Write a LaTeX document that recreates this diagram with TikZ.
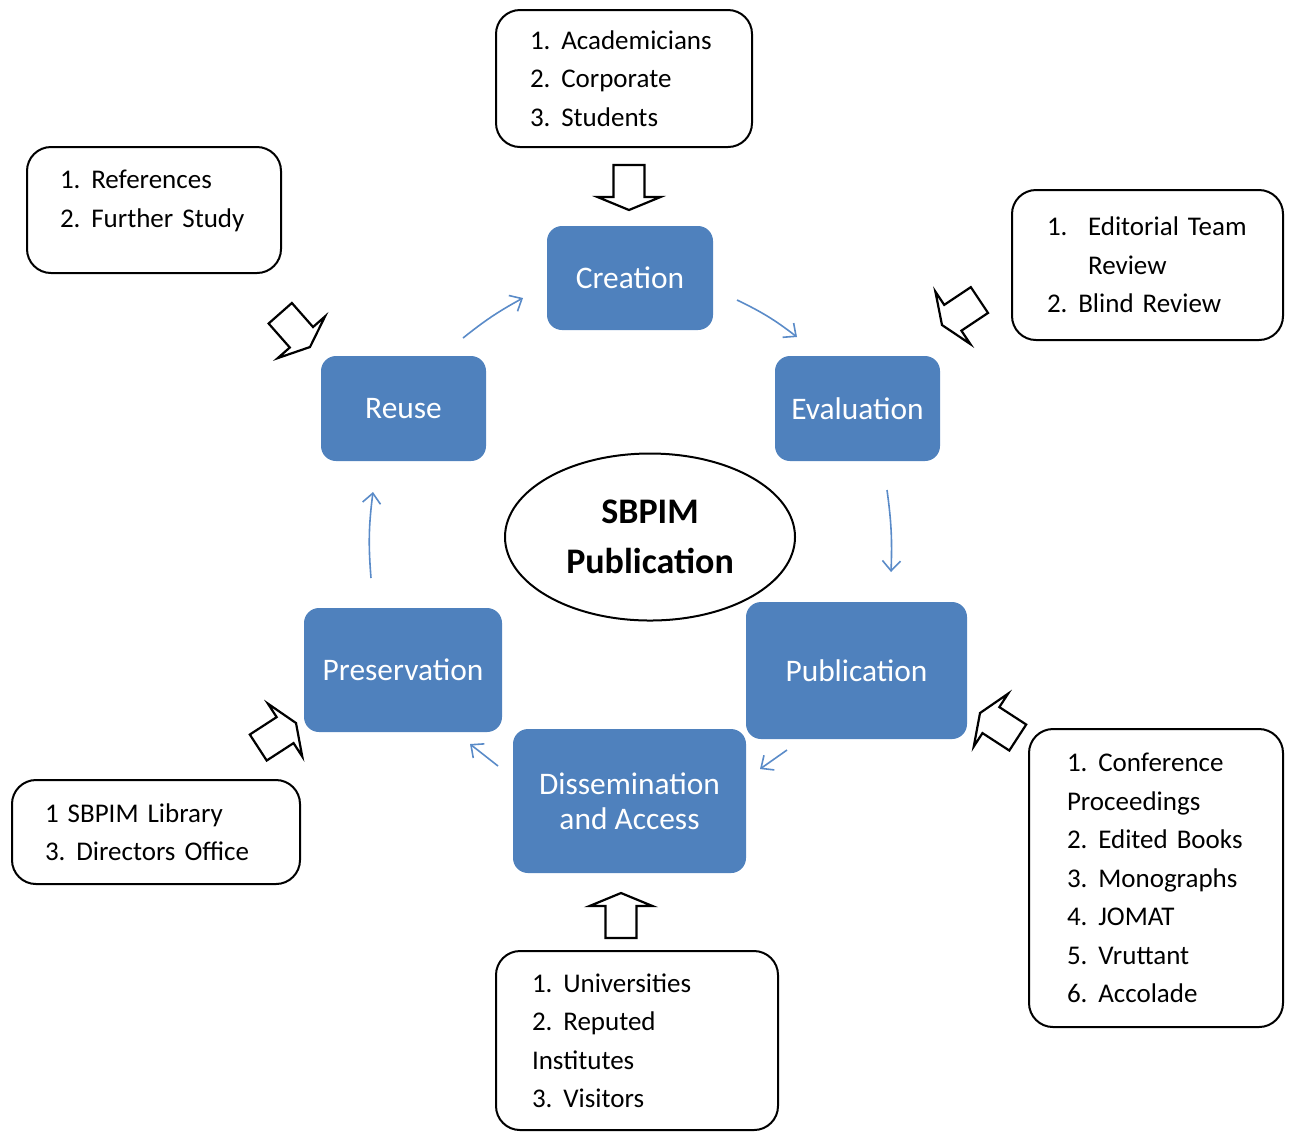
\documentclass[tikz,border=0pt]{standalone}
\usepackage{fontspec}
\setmainfont{Carlito}
\usetikzlibrary{arrows.meta,shapes.geometric}
\definecolor{boxblue}{HTML}{4F81BD}
\definecolor{arrblue}{HTML}{5A8BC8}
\newcommand\lnum[1]{#1.\hspace{0.4em}}
\begin{document}
\begin{tikzpicture}[x=0.5pt,y=-0.5pt,
  stage/.style={fill=boxblue, rounded corners=7.5pt, text=white,
    font=\fontsize{15.7}{17.5}\selectfont, align=center, inner sep=0pt},
  listbox/.style={draw=black, line width=1pt, rounded corners=12pt, fill=white,
    align=left, inner ysep=0pt, font=\fontsize{13.5}{19.25}\selectfont},
  cyc/.style={draw=arrblue, line width=0.8pt, -{Straight Barb[length=5pt,width=9pt]}},
  barrow/.style={draw=black, line width=1.1pt, fill=white, line join=miter},
  blockarrow/.pic={\path[barrow] (-45,-15.5) -- (-13,-15.5) -- (-13,-31.5) -- (0,0)
     -- (-13,31.5) -- (-13,15.5) -- (-45,15.5) -- cycle;}
]
\useasboundingbox (0,0) rectangle (1293,1132);

% central ellipse
\node[ellipse, draw=black, line width=1pt, minimum width=145pt, minimum height=83.5pt,
  inner sep=0pt, align=center, font=\bfseries\fontsize{18}{25}\selectfont]
  (core) at (650,537) {SBPIM\\Publication};

% stages
\node[stage, minimum width=83pt, minimum height=52pt] (cre) at (630,278) {Creation};
\node[stage, minimum width=82.5pt, minimum height=52.5pt] (eva) at (857.5,408.5) {Evaluation};
\node[stage, minimum width=110.5pt, minimum height=68.5pt] (pub) at (856.5,670.5) {Publication};
\node[stage, minimum width=116.5pt, minimum height=72pt] (dis) at (629.5,801) {Dissemination\\and Access};
\node[stage, minimum width=99pt, minimum height=62pt] (pre) at (403,670) {Preservation};
\node[stage, minimum width=82.5pt, minimum height=52.5pt] (reu) at (403.5,408.5) {Reuse};

% list boxes
\node[listbox, minimum height=68.5pt, inner xsep=17pt, text width=94pt] (lcre) at (624,78.5)
  {\lnum{1}Academicians\\ \lnum{2}Corporate\\ \lnum{3}Students};
\node[listbox, minimum height=63pt, inner xsep=16.5pt, text width=94pt, text depth=30.5pt] (lreu) at (154,210)
  {\lnum{1}References\\ \lnum{2}Further Study};
\node[listbox, minimum height=75pt, inner xsep=17.5pt, text width=100.5pt] (leva) at (1147.5,265)
  {\makebox[1.52em][l]{1.}Editorial Team\\ \hspace*{1.52em}Review\\ \lnum{2}Blind Review};
\node[listbox, minimum height=149pt, inner xsep=19pt, text width=89pt] (lpub) at (1156,878)
  {\lnum{1}Conference\\ Proceedings\\ \lnum{2}Edited Books\\ \lnum{3}Monographs\\ \lnum{4}JOMAT\\ \lnum{5}Vruttant\\ \lnum{6}Accolade};
\node[listbox, minimum height=89.5pt, inner xsep=18pt, text width=105pt] (ldis) at (637,1040.5)
  {\lnum{1}Universities\\ \lnum{2}Reputed\\ Institutes\\ \lnum{3}Visitors};
\node[listbox, minimum height=52pt, inner xsep=16.5pt, text width=111pt] (lpre) at (156,832)
  {1 SBPIM Library\\ \lnum{3}Directors Office};

% block arrows (tip position, visual direction)
\pic[rotate=-90] at (629,210) {blockarrow};
\pic[rotate=90] at (621,893) {blockarrow};
\pic[rotate=-48.6] at (310,347) {blockarrow};
\pic[rotate=-146.3] at (942,325) {blockarrow};
\pic[rotate=33] at (296,723) {blockarrow};
\pic[rotate=147] at (980,713) {blockarrow};

% cycle connectors
\coordinate (c1s) at (737,300); \coordinate (c1e) at (797,337);
\coordinate (c2s) at (887,490); \coordinate (c2e) at (891,572);
\coordinate (c3s) at (787,750); \coordinate (c3e) at (760,769);
\coordinate (c4s) at (498,766); \coordinate (c4e) at (470,744);
\coordinate (c5s) at (371,578); \coordinate (c5e) at (373,492);
\coordinate (c6s) at (463,338); \coordinate (c6e) at (523,298);
\draw[cyc] (c1s) to[bend left=6] (c1e);
\draw[cyc] (c2s) to[bend left=5] (c2e);
\draw[cyc] (c3s) -- (c3e);
\draw[cyc] (c4s) -- (c4e);
\draw[cyc] (c5s) to[bend left=6] (c5e);
\draw[cyc] (c6s) to[bend left=5] (c6e);
\end{tikzpicture}
\end{document}
